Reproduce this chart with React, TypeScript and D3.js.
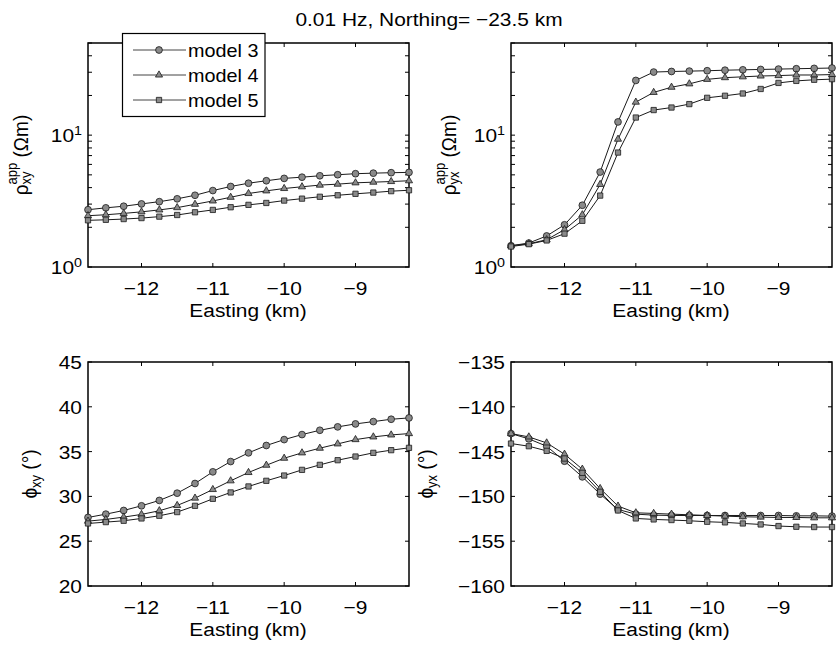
import React, { useEffect } from 'react';
import * as d3 from 'd3';

// ---------------- data ----------------
const easting = [-12.75, -12.5, -12.25, -12, -11.75, -11.5, -11.25, -11, -10.75, -10.5, -10.25, -10, -9.75, -9.5, -9.25, -9, -8.75, -8.5, -8.25];
const seriesNames = ['model 3', 'model 4', 'model 5'];
const xTicks = [-12, -11, -10, -9];
const rhoTicks = [1, 10];
const rhoMinorTicks = [2, 3, 4, 5, 6, 7, 8, 9, 20, 30, 40, 50];
const phiXYTicks = [20, 25, 30, 35, 40, 45];
const phiYXTicks = [-160, -155, -150, -145, -140, -135];

const rhoXY3 = [2.72, 2.81, 2.89, 3.01, 3.13, 3.29, 3.50, 3.80, 4.08, 4.32, 4.51, 4.70, 4.80, 4.92, 5.01, 5.10, 5.15, 5.19, 5.22];
const rhoXY4 = [2.45, 2.49, 2.55, 2.62, 2.71, 2.82, 2.99, 3.17, 3.38, 3.61, 3.78, 3.94, 4.06, 4.18, 4.25, 4.35, 4.40, 4.45, 4.51];
const rhoXY5 = [2.26, 2.28, 2.31, 2.35, 2.41, 2.48, 2.60, 2.71, 2.84, 2.96, 3.06, 3.19, 3.30, 3.41, 3.50, 3.59, 3.67, 3.76, 3.82];

const rhoYX3 = [1.45, 1.52, 1.72, 2.09, 2.94, 5.25, 12.6, 26.0, 30.1, 30.4, 30.6, 30.8, 31.1, 31.3, 31.5, 31.7, 31.9, 32.1, 32.3];
const rhoYX4 = [1.45, 1.50, 1.61, 1.92, 2.49, 4.23, 9.32, 17.8, 21.1, 23.1, 24.5, 26.5, 27.3, 27.7, 28.1, 28.3, 28.6, 28.6, 28.8];
const rhoYX5 = [1.43, 1.49, 1.59, 1.79, 2.24, 3.48, 7.38, 13.6, 15.5, 16.2, 17.2, 19.2, 19.9, 20.7, 22.4, 24.9, 25.8, 26.3, 26.6];

const phiXY3 = [27.65, 28.02, 28.43, 28.95, 29.55, 30.36, 31.44, 32.74, 33.89, 34.86, 35.68, 36.34, 36.90, 37.38, 37.76, 38.09, 38.35, 38.61, 38.76];
const phiXY4 = [27.24, 27.43, 27.69, 27.99, 28.40, 28.99, 29.81, 30.77, 31.74, 32.67, 33.48, 34.26, 34.86, 35.38, 35.86, 36.34, 36.64, 36.86, 37.01];
const phiXY5 = [26.98, 27.13, 27.28, 27.54, 27.84, 28.25, 28.95, 29.73, 30.44, 31.11, 31.74, 32.33, 32.96, 33.52, 34.04, 34.45, 34.86, 35.16, 35.42];

const phiYX3 = [-142.99, -143.58, -144.40, -146.07, -147.82, -149.75, -151.46, -151.98, -152.09, -152.13, -152.13, -152.13, -152.13, -152.13, -152.13, -152.13, -152.17, -152.17, -152.20];
const phiYX4 = [-142.99, -143.36, -144.03, -145.29, -146.96, -149.12, -151.08, -151.83, -151.90, -151.98, -152.05, -152.13, -152.20, -152.27, -152.31, -152.35, -152.35, -152.39, -152.39];
const phiYX5 = [-144.10, -144.40, -144.92, -145.77, -147.37, -149.49, -151.57, -152.46, -152.57, -152.64, -152.72, -152.83, -152.90, -153.02, -153.13, -153.31, -153.39, -153.42, -153.42];

// ---------------- style ----------------
const SX = 1.1;
const FONT = "'Liberation Sans', Arial, Helvetica, sans-serif";
const MARK_FILL = '#8a8a8a';
const MARK_STROKE = '#1a1a1a';
const LINE_COLOR = '#1a1a1a';
const symbols = [
  d3.symbol().type(d3.symbolCircle).size(36)() as string,
  d3.symbol().type(d3.symbolTriangle).size(22)() as string,
  d3.symbol().type(d3.symbolSquare).size(28)() as string,
];
const X_DOMAIN: [number, number] = [-12.75, -8.25];
const TICK = 4;

type Box = { x0: number; x1: number; y0: number; y1: number };

function Txt({ x, y, anchor = 'start', size = 19, rot = false, children }: any) {
  return (
    <text
      transform={`translate(${x},${y}) scale(${SX},1)${rot ? ' rotate(-90)' : ''}`}
      textAnchor={anchor}
      fontSize={size}
      fontFamily={FONT}
      fill="#000"
    >
      {children}
    </text>
  );
}

function Panel({ box, kind, yDomain, yTicks, minorTicks, series, logLabels, yLabel }: any) {
  const x = d3.scaleLinear().domain(X_DOMAIN).range([box.x0, box.x1]);
  const y = (kind === 'log' ? d3.scaleLog() : d3.scaleLinear()).domain(yDomain).range([box.y1, box.y0]);
  const line = d3
    .line<number>()
    .x((_, i) => x(easting[i]))
    .y((d) => y(d));
  return (
    <g>
      {/* x ticks bottom & top */}
      {xTicks.map((t) => (
        <g key={'xt' + t}>
          <line x1={x(t)} x2={x(t)} y1={box.y1} y2={box.y1 - TICK} stroke="#000" strokeWidth={1} />
          <line x1={x(t)} x2={x(t)} y1={box.y0} y2={box.y0 + TICK} stroke="#000" strokeWidth={1} />
          <Txt x={x(t)} y={box.y1 + 28} anchor="middle">{'\u2212' + Math.abs(t)}</Txt>
        </g>
      ))}
      {/* y ticks */}
      {yTicks.map((t: number) => (
        <g key={'yt' + t}>
          <line x1={box.x0} x2={box.x0 + TICK} y1={y(t)} y2={y(t)} stroke="#000" strokeWidth={1} />
          <line x1={box.x1} x2={box.x1 - TICK} y1={y(t)} y2={y(t)} stroke="#000" strokeWidth={1} />
          {logLabels ? (
            <Txt x={box.x0 - 6} y={y(t) + 7} anchor="end">
              10<tspan fontSize={13} dy={-7}>{Math.round(Math.log10(t))}</tspan>
            </Txt>
          ) : (
            <Txt x={box.x0 - 6} y={y(t) + 7} anchor="end">{t < 0 ? '\u2212' + Math.abs(t) : String(t)}</Txt>
          )}
        </g>
      ))}
      {(minorTicks || []).map((t: number) => (
        <g key={'mt' + t}>
          <line x1={box.x0} x2={box.x0 + TICK} y1={y(t)} y2={y(t)} stroke="#000" strokeWidth={1} />
          <line x1={box.x1} x2={box.x1 - TICK} y1={y(t)} y2={y(t)} stroke="#000" strokeWidth={1} />
        </g>
      ))}
      <rect x={box.x0} y={box.y0} width={box.x1 - box.x0} height={box.y1 - box.y0} fill="none" stroke="#000" strokeWidth={1.5} />
      {/* data */}
      {series.map((s: number[], si: number) => (
        <g key={'s' + si}>
          <path d={line(s) as string} fill="none" stroke={LINE_COLOR} strokeWidth={1} />
          {s.map((v, i) => (
            <path
              key={i}
              d={symbols[si]}
              transform={`translate(${x(easting[i])},${y(v)})`}
              fill={MARK_FILL}
              stroke={MARK_STROKE}
              strokeWidth={0.8}
            />
          ))}
        </g>
      ))}
      {yLabel}
    </g>
  );
}

export default function App() {
  useEffect(() => {
    document.body.style.margin = '0';
    document.body.style.overflow = 'hidden';
  }, []);
  const TL: Box = { x0: 88, x1: 409, y0: 43, y1: 267 };
  const TR: Box = { x0: 511, x1: 832, y0: 43, y1: 267 };
  const BL: Box = { x0: 88, x1: 409, y0: 362, y1: 586 };
  const BR: Box = { x0: 511, x1: 832, y0: 362, y1: 586 };

  const rhoLabel = (x: number, y: number, sub: string) => (
    <Txt x={x} y={y} anchor="middle" rot>
      {'\u03C1'}
      <tspan fontSize={13} dy={-10}>app</tspan>
      <tspan fontSize={13} dx={-21.7} dy={13}>{sub}</tspan>
      <tspan dx={8.7} dy={-3}>{' (\u03A9m)'}</tspan>
    </Txt>
  );
  const phiLabel = (x: number, y: number, sub: string) => (
    <Txt x={x} y={y} anchor="middle" rot>
      {'\u03D5'}
      <tspan fontSize={13} dy={4}>{sub}</tspan>
      <tspan dy={-4}>{' (\u00B0)'}</tspan>
    </Txt>
  );

  const legendY = [50, 75, 100];

  return (
    <svg width={836} height={646} style={{ position: 'absolute', left: 0, top: 0, background: '#fff' }}>
      <rect x={0} y={0} width={836} height={646} fill="#fff" />
      <Txt x={429} y={26} anchor="middle">0.01 Hz, Northing= {'\u2212'}23.5 km</Txt>

      <Panel box={TL} kind="log" yDomain={[1, 50]} yTicks={rhoTicks} minorTicks={rhoMinorTicks} logLabels
        series={[rhoXY3, rhoXY4, rhoXY5]} yLabel={rhoLabel(28, 155, 'xy')} />
      <Panel box={TR} kind="log" yDomain={[1, 50]} yTicks={rhoTicks} minorTicks={rhoMinorTicks} logLabels
        series={[rhoYX3, rhoYX4, rhoYX5]} yLabel={rhoLabel(456, 155, 'yx')} />
      <Panel box={BL} kind="lin" yDomain={[20, 45]} yTicks={phiXYTicks}
        series={[phiXY3, phiXY4, phiXY5]} yLabel={phiLabel(37, 474, 'xy')} />
      <Panel box={BR} kind="lin" yDomain={[-160, -135]} yTicks={phiYXTicks}
        series={[phiYX3, phiYX4, phiYX5]} yLabel={phiLabel(433, 474, 'yx')} />

      <Txt x={248} y={317} anchor="middle">Easting (km)</Txt>
      <Txt x={671} y={317} anchor="middle">Easting (km)</Txt>
      <Txt x={248} y={636} anchor="middle">Easting (km)</Txt>
      <Txt x={671} y={636} anchor="middle">Easting (km)</Txt>

      {/* legend */}
      <g>
        <rect x={122.5} y={33.5} width={142.5} height={83} fill="#fff" stroke="#000" strokeWidth={1.2} />
        {seriesNames.map((n, i) => (
          <g key={n}>
            <line x1={133} x2={186} y1={legendY[i]} y2={legendY[i]} stroke="#444" strokeWidth={1} />
            <path d={symbols[i]} transform={`translate(159,${legendY[i]})`} fill={MARK_FILL} stroke={MARK_STROKE} strokeWidth={0.8} />
            <Txt x={188} y={legendY[i] + 6.5} size={18}>{n}</Txt>
          </g>
        ))}
      </g>
    </svg>
  );
}
